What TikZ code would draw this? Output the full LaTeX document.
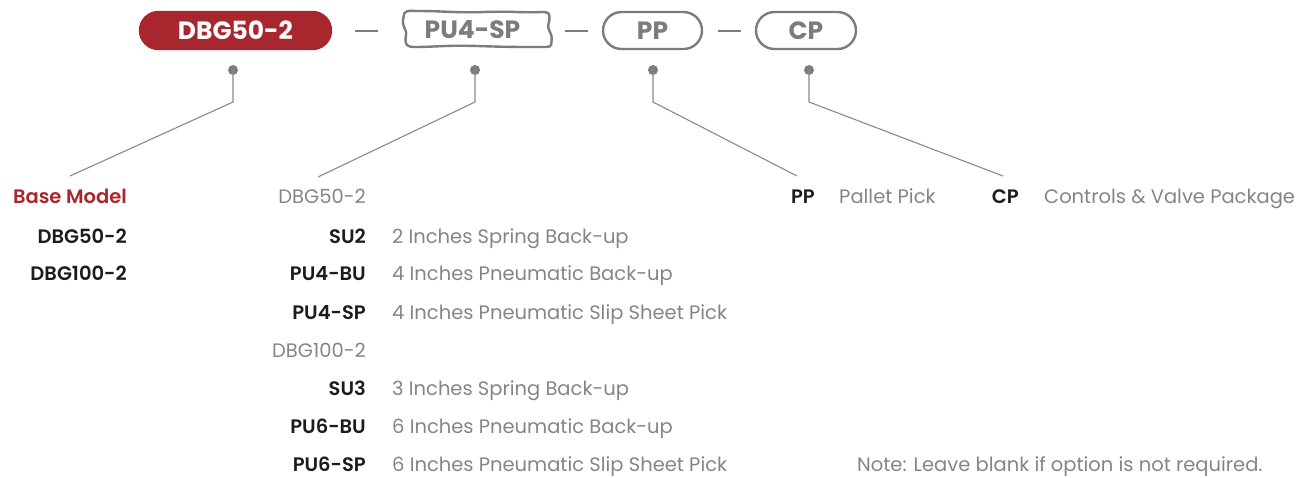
\documentclass[tikz,border=0pt]{standalone}
\usepackage{fontspec}
\setmainfont{Poppins}[BoldFont={Poppins SemiBold}]
\newfontfamily\pillfont{Poppins Bold}
\usetikzlibrary{shapes.misc}
\definecolor{brandred}{HTML}{A8272F}
\definecolor{txtgray}{HTML}{858585}
\definecolor{linegray}{HTML}{8A8A8A}
\definecolor{boxgray}{HTML}{7C7C7C}
\definecolor{txtblack}{HTML}{1C1C1C}
\tikzset{
  pill/.style={rounded rectangle, minimum height=37pt, inner sep=0pt, line width=2.4pt, draw=boxgray, text=boxgray, font=\fontsize{25}{25}\pillfont},
  redpill/.style={pill, fill=brandred, draw=brandred, text=white},
  dot/.style={circle, fill=boxgray, inner sep=0pt, minimum size=10pt},
  leader/.style={draw=linegray, line width=1.1pt},
  dashline/.style={draw=boxgray, line width=2.4pt},
  code/.style={font=\fontsize{19.5}{19.5}\selectfont\bfseries, text=txtblack, inner sep=0pt, anchor=base east},
  head/.style={font=\fontsize{19.5}{19.5}\selectfont\bfseries, text=brandred, inner sep=0pt, anchor=base east},
  sub/.style={font=\fontsize{19.5}{19.5}\selectfont, text=txtgray, inner sep=0pt, anchor=base east},
  desc/.style={font=\fontsize{19.5}{19.5}\selectfont, text=txtgray, inner sep=0pt, anchor=base west},
}
\begin{document}
\begin{tikzpicture}[x=1pt,y=-1pt]
\useasboundingbox (0,0) rectangle (1304,477);
% top code pills
\node[redpill, minimum width=191pt] (base) at (235.5,30.5) {DBG50-2};
\node[pill, draw=none, minimum width=155pt, minimum height=39pt] (pu) at (472.5,30) {PU4-SP};
\draw[draw=boxgray, line width=2.4pt, line join=round]
  (pu.center) ++(-68,-17) coordinate (w0)
  .. controls +(3,-3) and +(-6,0) .. ++(12,-2)
  .. controls +(30,0) and +(-30,1) .. ++(68,1)
  .. controls +(30,-1) and +(-20,1) .. ++(57,0)
  .. controls +(7,0) and +(0,-5) .. ++(8,6)
  .. controls +(0,6) and +(-3,-6) .. ++(0,13)
  .. controls +(3,6) and +(0,-5) .. ++(2,11)
  .. controls +(0,5) and +(6,0) .. ++(-8,5)
  .. controls +(-30,0) and +(30,1) .. ++(-66,-1)
  .. controls +(-30,-1) and +(20,0) .. ++(-63,1)
  .. controls +(-7,0) and +(0,5) .. ++(-9,-7)
  .. controls +(0,-6) and +(3,6) .. ++(-1,-12)
  .. controls +(-3,-5) and +(-1,4) .. (w0) -- cycle;
\node[pill, minimum width=99pt] (pp) at (652.5,30.5) {PP};
\node[pill, minimum width=100pt] (cp) at (806,30.5) {CP};
% separator dashes
\coordinate (s1a) at (355,31); \coordinate (s1b) at (378,31);
\coordinate (s2a) at (565,31); \coordinate (s2b) at (588,31);
\coordinate (s3a) at (718,31); \coordinate (s3b) at (741,31);
\draw[dashline] (s1a) -- (s1b);
\draw[dashline] (s2a) -- (s2b);
\draw[dashline] (s3a) -- (s3b);
% dots and leaders
\node[dot] (d1) at (233,70) {};
\node[dot] (d2) at (475,70) {};
\node[dot] (d3) at (653,70) {};
\node[dot] (d4) at (809,70) {};
\coordinate (b1) at (233,102); \coordinate (e1) at (70,176);
\coordinate (b2) at (475,102); \coordinate (e2) at (318,177);
\coordinate (b3) at (653,102); \coordinate (e3) at (797,176);
\coordinate (b4) at (809,102); \coordinate (e4) at (1003,176);
\draw[leader] (d1.center) -- (b1) -- (e1);
\draw[leader] (d2.center) -- (b2) -- (e2);
\draw[leader] (d3.center) -- (b3) -- (e3);
\draw[leader] (d4.center) -- (b4) -- (e4);
% base model column
\node[head] (bm) at (127,203) {Base Model};
\node[code] (bm1) at (127,243) {DBG50-2};
\node[code] (bm2) at (127,280) {DBG100-2};
% option column
\node[sub] (g1) at (366,203) {DBG50-2};
\node[code] (c1) at (366,243) {SU2};
\node[desc] (t1) at (392,243) {2 Inches Spring Back-up};
\node[code] (c2) at (366,280) {PU4-BU};
\node[desc] (t2) at (392,280) {4 Inches Pneumatic Back-up};
\node[code] (c3) at (366,319) {PU4-SP};
\node[desc] (t3) at (392,319) {4 Inches Pneumatic Slip Sheet Pick};
\node[sub] (g2) at (366,357) {DBG100-2};
\node[code] (c4) at (366,395) {SU3};
\node[desc] (t4) at (392,395) {3 Inches Spring Back-up};
\node[code] (c5) at (366,433) {PU6-BU};
\node[desc] (t5) at (392,433) {6 Inches Pneumatic Back-up};
\node[code] (c6) at (366,471) {PU6-SP};
\node[desc] (t6) at (392,471) {6 Inches Pneumatic Slip Sheet Pick};
% PP / CP
\node[code] (pc) at (815,203) {PP};
\node[desc] (pt) at (839,203) {Pallet Pick};
\node[code] (cc) at (1019,203) {CP};
\node[desc] (ct) at (1044,203) {Controls \& Valve Package};
% note
\node[desc] (note) at (857,471) {Note: Leave blank if option is not required.};
\end{tikzpicture}
\end{document}
